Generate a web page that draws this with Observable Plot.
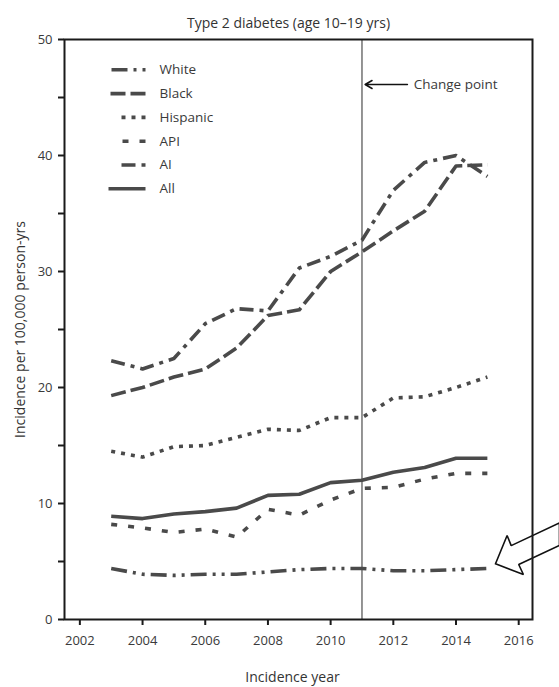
<!DOCTYPE html>
<html><head><meta charset="utf-8">
<script src="https://cdn.jsdelivr.net/npm/d3@7"></script>
<script src="https://cdn.jsdelivr.net/npm/@observablehq/plot@0.6"></script>
<style>body{margin:0;background:#fff;overflow:hidden}</style>
</head><body><div id="chart"></div>
<script>
// ---- data ----
const years = [2003, 2004, 2005, 2006, 2007, 2008, 2009, 2010, 2011, 2012, 2013, 2014, 2015];
const seriesNames = ["White", "Black", "Hispanic", "API", "AI", "All"];
const white    = [4.4, 3.9, 3.8, 3.9, 3.9, 4.1, 4.3, 4.4, 4.4, 4.2, 4.2, 4.3, 4.4];
const black    = [19.3, 20.0, 20.9, 21.6, 23.4, 26.2, 26.7, 30.0, 31.7, 33.5, 35.2, 39.1, 39.2];
const hispanic = [14.5, 14.0, 14.9, 15.0, 15.7, 16.4, 16.3, 17.4, 17.4, 19.1, 19.2, 20.0, 20.9];
const api      = [8.2, 7.9, 7.5, 7.8, 7.1, 9.5, 9.0, 10.3, 11.3, 11.4, 12.1, 12.6, 12.6];
const ai       = [22.3, 21.6, 22.5, 25.5, 26.8, 26.6, 30.3, 31.3, 32.7, 37.0, 39.4, 40.0, 38.2];
const all      = [8.9, 8.7, 9.1, 9.3, 9.6, 10.7, 10.8, 11.8, 12.0, 12.7, 13.1, 13.9, 13.9];
const seriesValues = [white, black, hispanic, api, ai, all];
const xTicks = [2002, 2004, 2006, 2008, 2010, 2012, 2014, 2016];
const yTicks = [0, 5, 10, 15, 20, 25, 30, 35, 40, 45, 50];
const title = "Type 2 diabetes (age 10–19 yrs)";
const xLabel = "Incidence year";
const yLabel = "Incidence per 100,000 person-yrs";
const changeYear = 2011;
const changeLabel = "Change point";
// outline of the hollow callout arrow (year, value)
const calloutX = [2015.26, 2015.63, 2015.76, 2017.30, 2017.30, 2016.00, 2016.15, 2015.26];
const calloutY = [4.80, 7.24, 6.37, 8.33, 6.38, 4.74, 3.88, 4.80];

// ---- styles ----
const ink = "#4a4a4a";
const dashes = ["16,6,3,6,3,6", "15,5", "4,6", "6,11", "14,6,4,6", null];
const legendLen = [34, 35, 24, 23, 24, 37];
const font = "'Open Sans', sans-serif";

const W = 559, H = 687;
const mL = 64, mR = 27, mT = 39, mB = 68;
const xDom = [2001.51, 2016.44], yDom = [0, 50];
const pxPerYear = (W - mL - mR) / (xDom[1] - xDom[0]);
const pxPerUnit = (H - mT - mB) / (yDom[1] - yDom[0]);
const xAt = px => xDom[0] + (px - mL) / pxPerYear;
const yAt = py => yDom[1] - (py - mT) / pxPerUnit;

const marks = [];
// change point line
marks.push(Plot.ruleX([changeYear], {stroke: "#7a7a7a", strokeWidth: 1.6}));

seriesNames.forEach((name, i) => {
  const data = years.map((year, j) => ({year, value: seriesValues[i][j]}));
  const lineOpts = {x: "year", y: "value", stroke: ink, strokeWidth: 3.6, strokeLinecap: "butt", strokeLinejoin: "round"};
  if (dashes[i]) lineOpts.strokeDasharray = dashes[i];
  marks.push(Plot.line(data, lineOpts));
  // legend row
  const ly = yAt(69.3 + i * 23.8);
  const xr = xAt(145), xl = xAt(145 - legendLen[i]);
  marks.push(Plot.line([{x: xl, y: ly}, {x: xr, y: ly}], {...lineOpts, x: "x", y: "y"}));
  marks.push(Plot.text([name], {x: xAt(159), y: ly, text: d => d, textAnchor: "start", fontSize: 13.5, fill: "#3a3a3a"}));
});

// callout arrow
marks.push(Plot.line(calloutX.map((x, k) => ({x, y: calloutY[k]})), {x: "x", y: "y", fill: "white", stroke: "#111", strokeWidth: 1.6, strokeLinejoin: "miter"}));

// change point annotation
marks.push(Plot.arrow([changeLabel], {x1: changeYear + 1.45, x2: changeYear + 0.1, y1: yAt(84), y2: yAt(84), stroke: "#111", strokeWidth: 1.5, headLength: 8}));
marks.push(Plot.text([changeLabel], {x: changeYear + 1.65, y: yAt(84), text: d => d, textAnchor: "start", fontSize: 13.5, fill: "#3a3a3a"}));

// axes and frame
marks.push(Plot.axisY({ticks: yTicks, tickFormat: d => d % 10 === 0 ? String(d) : "", tickSize: 6, tickPadding: 6, strokeWidth: 2, stroke: "#1a1a1a", fill: "#3a3a3a", fontSize: 13, label: null}));
marks.push(Plot.axisX({ticks: xTicks, tickFormat: d => String(d), tickSize: 6, tickPadding: 10, strokeWidth: 2, stroke: "#1a1a1a", fill: "#3a3a3a", fontSize: 13, label: null}));
marks.push(Plot.frame({stroke: "#1a1a1a", strokeWidth: 2}));

// titles
marks.push(Plot.text([title], {frameAnchor: "top", dy: -21, dx: -10, text: d => d, fontSize: 14, fill: "#333"}));
marks.push(Plot.text([xLabel], {frameAnchor: "bottom", dy: 62, dx: -6, text: d => d, fontSize: 14, fill: "#333"}));
marks.push(Plot.text([yLabel], {frameAnchor: "left", textAnchor: "middle", dx: -44, rotate: -90, text: d => d, fontSize: 14, fill: "#333"}));

const chart = Plot.plot({
  width: W, height: H,
  marginLeft: mL, marginRight: mR, marginTop: mT, marginBottom: mB,
  x: {domain: xDom},
  y: {domain: yDom},
  style: {fontFamily: font, background: "white", overflow: "visible"},
  marks
});
document.getElementById("chart").appendChild(chart);
</script>
</body></html>
